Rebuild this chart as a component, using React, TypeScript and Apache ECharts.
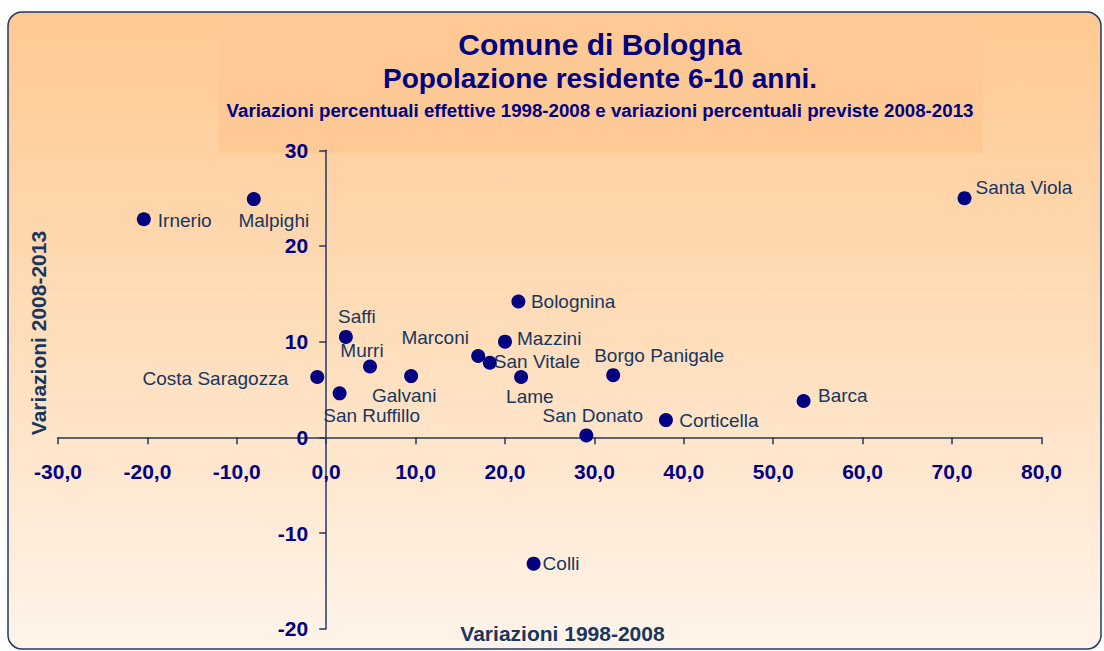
import React, { useEffect, useRef } from "react";
import * as echarts from "echarts";

const districts = [
  "Irnerio", "Malpighi", "Santa Viola", "Bolognina", "Saffi", "Marconi",
  "Mazzini", "San Vitale", "Murri", "Costa Saragozza", "Galvani", "San Ruffillo",
  "Lame", "Borgo Panigale", "Barca", "San Donato", "Corticella", "Colli",
];
const variazioni19982008 = [
  -20.4, -8.1, 71.4, 21.5, 2.2, 17.0, 20.0, 18.3, 4.9, -1.0, 9.5, 1.5,
  21.8, 32.1, 53.4, 29.1, 38.0, 23.2,
];
const variazioni20082013 = [
  22.8, 24.9, 25.0, 14.2, 10.5, 8.5, 10.0, 7.8, 7.4, 6.3, 6.4, 4.6,
  6.3, 6.5, 3.8, 0.2, 1.8, -13.2,
];
const titleLines = [
  "Comune di Bologna",
  "Popolazione residente 6-10 anni.",
  "Variazioni percentuali effettive 1998-2008 e variazioni percentuali previste 2008-2013",
];
const xAxisName = "Variazioni 1998-2008";
const yAxisName = "Variazioni 2008-2013";
const xRange = [-30, 80];
const yRange = [-20, 30];

// label placement (style only): [align, dx, dy] relative to the point
const labelPlacement: Record<string, [string, number, number]> = {
  "Irnerio": ["left", 14, 1.5],
  "Malpighi": ["center", 20, 21],
  "Santa Viola": ["left", 11, -10.5],
  "Bolognina": ["left", 12.5, 0],
  "Saffi": ["center", 11, -20],
  "Marconi": ["center", -43, -19],
  "Mazzini": ["left", 12, -3],
  "San Vitale": ["left", 4, -1.5],
  "Murri": ["center", -8, -16],
  "Costa Saragozza": ["right", -29, 1.7],
  "Galvani": ["center", -7, 19],
  "San Ruffillo": ["center", 32, 21.7],
  "Lame": ["left", -15, 19.7],
  "Borgo Panigale": ["left", -19, -20],
  "Barca": ["left", 14.4, -5.7],
  "San Donato": ["right", 56.6, -20.3],
  "Corticella": ["left", 13.4, 0.7],
  "Colli": ["left", 9, 0],
};

const FONT = '"Liberation Sans", Arial, Helvetica, sans-serif';
const NAVY = "#000080";
const SLATE = "#17375E";
const AXIS = "#1F3864";

const W = 1104;
const H = 651;
const GRID = { left: 58, right: 62.6, top: 150.3, bottom: 22.3 };

function txt(text: string, x: number, y: number, size: number, color: string, rotation = 0) {
  return {
    type: "text",
    x,
    y,
    rotation,
    z: 5,
    style: {
      text,
      fill: color,
      fontSize: size,
      fontWeight: "bold",
      fontFamily: FONT,
      align: "center",
      verticalAlign: "middle",
      textAlign: "center",
      textVerticalAlign: "middle",
    },
  };
}

export default function App() {
  const ref = useRef<HTMLDivElement>(null);
  useEffect(() => {
    if (!ref.current) return;
    const chart = echarts.init(ref.current, undefined, { renderer: "svg" });
    const gridW = W - GRID.left - GRID.right;
    const gridH = H - GRID.top - GRID.bottom;
    // shift the axes so they cross at zero (like Excel)
    const xAxisOffset = -gridH * (0 - yRange[0]) / (yRange[1] - yRange[0]);
    const yAxisOffset = -gridW * (0 - xRange[0]) / (xRange[1] - xRange[0]);
    const data = districts.map((name, i) => {
      const p = labelPlacement[name] || ["left", 12, 0];
      return {
        name,
        value: [variazioni19982008[i], variazioni20082013[i]],
        label: {
          show: true,
          position: "inside",
          formatter: "{b}",
          align: p[0],
          verticalAlign: "middle",
          offset: [p[1], p[2]],
          color: SLATE,
          textBorderWidth: 0,
          textBorderColor: "transparent",
          fontSize: 19,
          fontFamily: FONT,
        },
      };
    });
    chart.setOption({
      animation: false,
      backgroundColor: "#ffffff",
      graphic: [
        {
          type: "rect",
          z: -10,
          shape: { x: 8, y: 12, width: 1093, height: 637, r: 14 },
          style: {
            fill: new echarts.graphic.LinearGradient(0, 0, 0, 1, [
              { offset: 0, color: "#FFC992" },
              { offset: 0.5, color: "#FFDDBA" },
              { offset: 1, color: "#FFF4EA" },
            ]),
            stroke: AXIS,
            lineWidth: 1.5,
          },
        },
        {
          type: "rect",
          z: -9,
          shape: { x: 219, y: 14, width: 764, height: 139 },
          style: { fill: "#FFC995" },
        },
        txt(titleLines[0], 600, 44.5, 30, NAVY),
        txt(titleLines[1], 600, 78, 28, NAVY),
        txt(titleLines[2], 600, 110.5, 18.7, NAVY),
        txt(xAxisName, 562.5, 633, 21, SLATE),
        txt(yAxisName, 38, 333, 21, SLATE, Math.PI / 2),
      ],
      grid: { ...GRID, containLabel: false, outerBoundsMode: "none" },
      xAxis: {
        type: "value",
        position: "bottom",
        offset: xAxisOffset,
        min: xRange[0],
        max: xRange[1],
        interval: 10,
        axisLine: { onZero: false, lineStyle: { color: AXIS, width: 1.5 } },
        axisTick: { show: true, length: 7, lineStyle: { color: AXIS, width: 1.5 } },
        axisLabel: {
          formatter: (v: number) => v.toFixed(1).replace(".", ","),
          color: NAVY,
          fontWeight: "bold",
          fontSize: 21,
          fontFamily: FONT,
          margin: 24,
        },
        splitLine: { show: false },
      },
      yAxis: {
        type: "value",
        position: "left",
        offset: yAxisOffset,
        min: yRange[0],
        max: yRange[1],
        interval: 10,
        axisLine: { onZero: false, lineStyle: { color: AXIS, width: 1.5 } },
        axisTick: { show: true, length: 7, lineStyle: { color: AXIS, width: 1.5 } },
        axisLabel: {
          color: NAVY,
          fontWeight: "bold",
          fontSize: 21,
          fontFamily: FONT,
          margin: 18,
        },
        splitLine: { show: false },
      },
      series: [
        {
          type: "scatter",
          symbol: "circle",
          symbolSize: 14,
          itemStyle: { color: NAVY, opacity: 1 },
          data,
        },
      ],
    });
    return () => chart.dispose();
  }, []);
  return (
    <div
      ref={ref}
      style={{ position: "fixed", left: 0, top: 0, width: W, height: H }}
    />
  );
}
